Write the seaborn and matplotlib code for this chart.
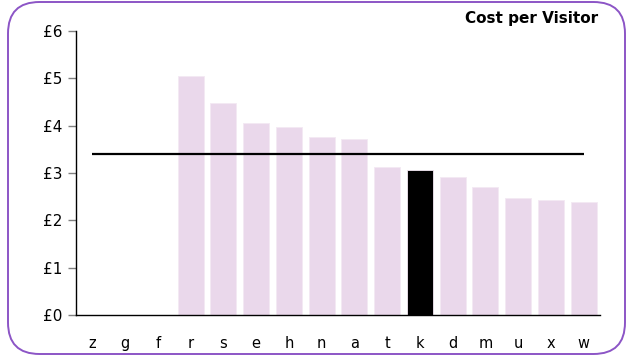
import matplotlib
matplotlib.use("Agg")
import matplotlib.pyplot as plt
from matplotlib.patches import FancyBboxPatch
import seaborn as sns
import pandas as pd

# Cost per visitor by site
categories = ["z", "g", "f", "r", "s", "e", "h", "n", "a", "t", "k", "d", "m", "u", "x", "w"]
cost = [0, 0, 0, 5.05, 4.47, 4.05, 3.98, 3.76, 3.72, 3.13, 3.06, 2.92, 2.70, 2.47, 2.44, 2.39]
highlight = "k"
average_cost = 3.40
y_ticks = [0, 1, 2, 3, 4, 5, 6]

sns.set_theme(style="white")
plt.rcParams["font.family"] = ["DejaVu Sans"]

W, H, DPI = 631, 356, 100
fig = plt.figure(figsize=(W / DPI, H / DPI), dpi=DPI)
ax = fig.add_axes([76 / W, 1 - 315 / H, (600 - 76) / W, (315 - 31) / H])

df = pd.DataFrame({"site": categories, "cost": cost})
palette = {c: ("#000000" if c == highlight else "#ead8eb") for c in categories}
sns.barplot(data=df, x="site", y="cost", hue="site", palette=palette,
            legend=False, width=0.8, ax=ax, saturation=1,
            edgecolor="#f3e9f3", linewidth=0.6)

# Average line across all sites
ax.hlines(average_cost, 0, len(categories) - 1, color="black", linewidth=1.6, zorder=5)

ax.set_xlim(-0.5, len(categories) - 0.5)
ax.set_ylim(0, 6)
ax.set_yticks(y_ticks)
ax.set_yticklabels([f"£{v}" for v in y_ticks])
ax.set_xlabel("")
ax.set_ylabel("")

for s in ["top", "right"]:
    ax.spines[s].set_visible(False)
for s in ["left", "bottom"]:
    ax.spines[s].set_color("black")
    ax.spines[s].set_linewidth(1.0)

ax.tick_params(axis="y", which="major", left=True, length=6, width=1,
               color="#808080", labelsize=11, pad=4, labelcolor="black")
ax.tick_params(axis="x", which="major", bottom=False, labelsize=10.5,
               pad=9, labelcolor="black")

fig.text(598 / W, 1 - 18 / H, "Cost per Visitor", ha="right", va="center",
         fontsize=11, fontweight="bold", color="black")

# Rounded frame around the whole chart
border = FancyBboxPatch((8 / W, 2 / H), (625 - 8) / W, (354 - 2) / H,
                        boxstyle="round,pad=0,rounding_size=0.05",
                        transform=fig.transFigure, fill=False,
                        edgecolor="#8c55c6", linewidth=1.4,
                        mutation_aspect=W / H)
fig.patches.append(border)

fig.savefig("out.png", dpi=DPI)
